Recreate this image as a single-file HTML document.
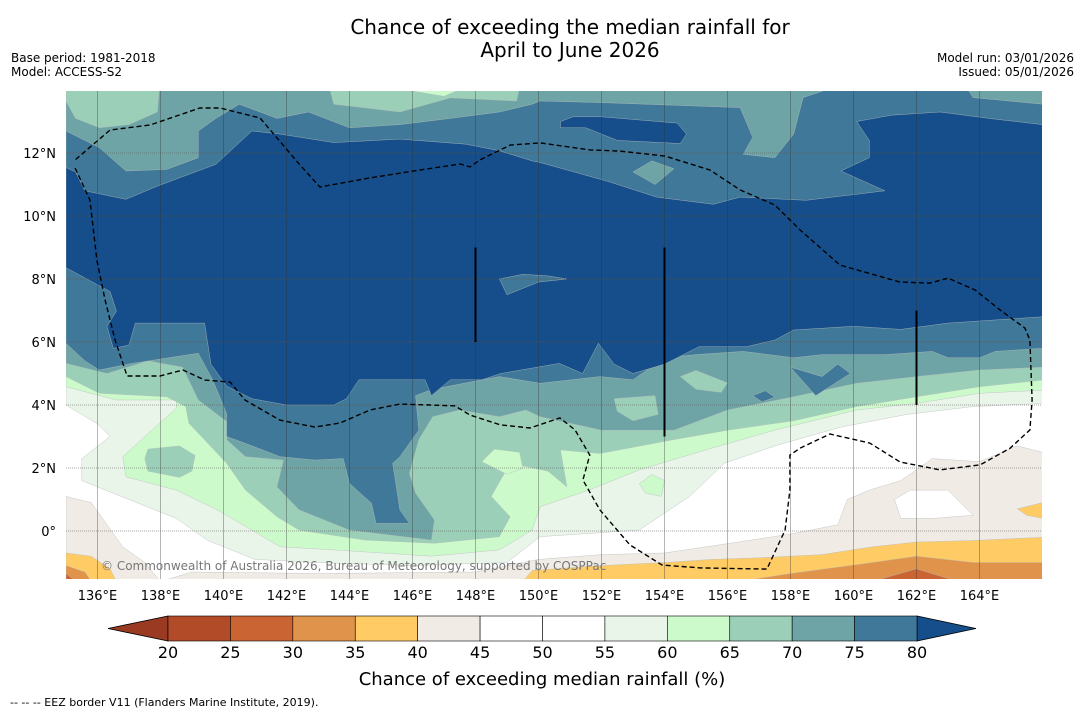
<!DOCTYPE html>
<html><head><meta charset="utf-8"><style>
body{margin:0;background:#fff;width:1085px;height:713px;overflow:hidden;font-family:"DejaVu Sans","Liberation Sans",sans-serif}
svg text{font-family:"DejaVu Sans","Liberation Sans",sans-serif}
</style></head><body>
<svg id="chart" width="1085" height="713" xmlns="http://www.w3.org/2000/svg">
<text x="570" y="34" text-anchor="middle" font-size="20">Chance of exceeding the median rainfall for</text>
<text x="570" y="57" text-anchor="middle" font-size="20">April to June 2026</text>
<text x="11" y="62" font-size="12">Base period: 1981-2018</text>
<text x="11" y="76" font-size="12">Model: ACCESS-S2</text>
<text x="1074" y="62" font-size="12" text-anchor="end">Model run: 03/01/2026</text>
<text x="1074" y="76" font-size="12" text-anchor="end">Issued: 05/01/2026</text>
<defs><clipPath id="mapclip"><rect x="66" y="91" width="976" height="488"/></clipPath></defs>
<g id="map" clip-path="url(#mapclip)"></g>
<g id="axes"></g>
<g id="cbar"></g>
<text x="542" y="685" text-anchor="middle" font-size="18">Chance of exceeding median rainfall (%)</text>
<text x="10" y="706" font-size="11">--  --  -- EEZ border V11 (Flanders Marine Institute, 2019).</text>
</svg>
<script>
const levels=[20,25,30,35,40,45,50,55,60,65,70,75,80];
const levelColors=["#9b3a22","#b14b28","#cb6433","#e0934a","#fecb65","#f0ebe5","#ffffff","#ffffff","#eaf5ea","#ccfacb","#9bcfb8","#6ea4a5","#3f7898","#154e8a"];
const lonTicks=[136,138,140,142,144,146,148,150,152,154,156,158,160,162,164];
const latTicks=[0,2,4,6,8,10,12];
// contour regions [colorIndex, polygon of [lon,lat]]
const regions=[
 [5,[[135,-1.6],[135,1.1],[135.8,0.9],[136.3,0.2],[136.8,-0.5],[137.5,-1.0],[138,-1.6]]],
 [5,[[138,-1.6],[139,-1.3],[143,-1.35],[148,-1.3],[150,-0.9],[152,-0.75],[154,-0.7],[156,-0.4],[158,-0.1],[159.5,0.2],[159.8,1.0],[160.5,1.3],[161.5,1.6],[162.5,2.3],[164,2.2],[165.2,2.7],[166,2.5],[166,-1.6]]],
 [6,[[161.3,1.0],[161.8,1.3],[163,1.3],[163.8,0.5],[162.5,0.4],[161.5,0.4]]],
 [4,[[149.5,-1.6],[149.8,-1.25],[152,-1.1],[154,-1.0],[155.5,-0.9],[157,-0.85],[159,-0.75],[160.6,-0.5],[162,-0.35],[163.8,-0.3],[166,-0.2],[166,-1.6]]],
 [4,[[165.2,0.7],[166,0.9],[166,0.4],[165.5,0.5]]],
 [3,[[156.4,-1.6],[158,-1.35],[160.6,-1.0],[162,-0.8],[163.8,-1.0],[166,-1.0],[166,-1.6]]],
 [2,[[160.6,-1.6],[162,-1.2],[163.3,-1.6]]],
 [4,[[135,-1.6],[135,-0.7],[135.8,-0.8],[136.4,-1.2],[136.6,-1.6]]],
 [3,[[135,-1.6],[135,-1.1],[135.6,-1.3],[135.8,-1.6]]],
 [2,[[135,-1.6],[135,-1.35],[135.3,-1.6]]],
 [8,[[135,14.5],[135,4.0],[136,3.4],[136.4,3.0],[135.5,2.3],[135.5,1.6],[137,1.0],[138.5,0.4],[139.5,-0.3],[141,-0.9],[143,-1.0],[146,-1.1],[149,-1.0],[150.05,-0.18],[153.2,0.03],[154.8,1.1],[155.9,2.15],[157.5,2.7],[159.6,3.3],[161.7,3.7],[163.8,3.95],[166,4.05],[166,14.5]]],
 [9,[[135,14.5],[135,4.58],[136.6,4.16],[138.5,4.16],[138.5,3.9],[136.8,2.36],[136.9,1.72],[138.5,1.3],[139.8,0.67],[140.9,0.03],[141.8,-0.5],[143.5,-0.6],[146.6,-0.8],[148.76,-0.6],[149.8,0.03],[150.05,0.77],[151.6,1.3],[153.2,1.94],[155.3,2.57],[157.5,3.2],[160.1,3.84],[162,4.05],[164,4.37],[166,4.47],[166,14.5]]],
 [9,[[153.2,1.5],[153.6,1.8],[154,1.6],[153.9,1.1],[153.4,1.2]]],
 [10,[[135,14.5],[135,4.9],[136.06,4.37],[138.2,4.26],[138.8,3.95],[138.9,3.42],[140.1,2.15],[140.7,1.3],[141.7,0.45],[142.4,0.03],[144.5,-0.29],[146.7,-0.39],[147.7,-0.29],[148.76,-0.18],[149.1,0.45],[148.5,1.1],[149.1,2.15],[150.3,1.9],[150.9,1.4],[150.7,2.57],[151.95,2.46],[154.3,2.9],[156,3.2],[158.1,3.5],[160.1,3.95],[162,4.26],[164,4.58],[166,4.79],[166,14.5]]],
 [10,[[137.5,2.3],[137.6,2.6],[138.6,2.7],[139.1,2.4],[139,1.9],[138.6,1.7],[137.6,1.9]]],
 [9,[[148.2,2.2],[148.6,2.6],[149.4,2.5],[149.5,2.0],[149,1.8]]],
 [11,[[135,5.32],[136.3,5.0],[137.6,5.4],[138.7,5.2],[139.2,4.16],[140.2,3.4],[140.1,2.9],[140.7,2.36],[141.9,2.25],[141.7,1.4],[142.4,0.67],[144,0.03],[146.6,-0.29],[146.7,0.35],[146.1,1.2],[145.9,1.83],[146.2,2.9],[146.64,3.63],[147.5,3.84],[148.76,3.63],[149.6,3.84],[150.05,3.63],[152,3.2],[154.3,3.2],[156,3.84],[158.1,4.26],[160.1,4.69],[162,4.9],[164,5.11],[166,5.2],[166,14.5],[149.5,14.5],[149.3,13.65],[147.2,13.75],[145.6,13.3],[143.5,13.55],[143.25,14.5],[138,14.5],[137.9,13.3],[137,12.9],[136.06,12.8],[135.3,13.1],[135,13.65]]],
 [10,[[154.5,4.9],[155,5.1],[156,4.7],[155.8,4.4],[155,4.5]]],
 [10,[[152.4,4.2],[153.7,4.3],[153.8,3.7],[153,3.5],[152.5,3.8]]],
 [9,[[145.6,14.5],[145.8,14.0],[147,13.8],[147.7,14.1],[147.9,14.5]]],
 [12,[[135,5.96],[135.6,5.4],[136.06,5.11],[137.1,5.32],[139.2,5.64],[139.66,4.79],[140.1,3.73],[140.1,3.0],[140.7,2.78],[141.8,2.36],[142.9,2.25],[143.8,2.3],[144,1.51],[144.7,0.88],[144.84,0.24],[145.9,0.24],[145.6,0.67],[145.37,2.15],[145.6,2.36],[146.2,3.2],[146.1,4.3],[146.64,4.5],[147.7,4.7],[148.76,4.9],[150.05,4.69],[151.95,4.9],[153,4.8],[154,5.5],[155,5.6],[156.5,5.7],[158.1,5.5],[159,5.6],[161,5.6],[162.5,5.7],[163,5.5],[164,5.5],[164.5,5.7],[166,5.8],[166,13.55],[163.8,13.76],[163.3,14.5],[160.6,14.5],[158.4,13.76],[158.1,12.6],[157.5,11.85],[156.5,11.96],[156.8,12.5],[156.4,13.44],[152,13.6],[150.05,13.65],[149.8,13.55],[148.76,13.3],[147.2,13.1],[145.6,12.9],[144,12.8],[142.7,13.3],[141.7,13.1],[140.5,13.55],[139.76,13.1],[139.2,12.7],[139.2,11.85],[138.2,11.48],[136.9,11.43],[136.06,12.17],[135,12.7]]],
 [12,[[158,5.2],[159,4.9],[159.5,5.3],[159.9,5.0],[158.8,4.3]]],
 [12,[[156.8,4.3],[157.2,4.45],[157.5,4.25],[157.1,4.1]]],
 [13,[[135,8.36],[136.4,7.6],[136.6,6.98],[136.3,6.5],[136.5,5.8],[137,5.9],[137.2,6.6],[139.4,6.6],[139.6,5.3],[140.1,4.6],[140.9,4.2],[142,4.0],[143.5,4.0],[143.9,4.2],[144.3,4.8],[146.4,4.8],[146.6,4.3],[147.2,4.8],[148.2,4.8],[148.8,5.0],[150.66,5.32],[151.4,5.0],[151.9,5.96],[152.4,5.3],[153,5.0],[154,5.3],[155.1,5.85],[156.6,5.85],[157.5,6.06],[158.1,6.38],[160,6.5],[161.5,6.4],[163,6.6],[166,6.8],[166,12.9],[164.3,13.1],[162.75,13.3],[161.2,13.2],[160.1,13.0],[160.5,12.4],[160.5,11.85],[159.6,11.43],[161,10.8],[158.5,10.5],[156.4,10.6],[155.55,10.37],[153.75,10.6],[152.2,11.1],[150.05,11.7],[149.8,11.75],[148.76,12.07],[147.7,12.28],[145.6,12.44],[143.5,12.33],[141.8,12.6],[140.9,12.7],[139.76,11.64],[137.9,10.95],[136.9,10.53],[135.6,10.8],[135.3,11.4],[135,11.54]]],
 [13,[[150.7,13.0],[151.1,13.15],[152,13.15],[154.4,12.95],[154.7,12.6],[154.5,12.3],[152.5,12.4],[151.5,12.8],[150.7,12.8]]],
 [12,[[148.76,8.0],[149.5,8.15],[150.3,8.1],[150.9,8.0],[150,7.9],[149,7.5]]],
 [11,[[153,11.4],[153.6,11.75],[154.3,11.5],[153.7,11.0]]]
];
const eezLon=[135.29,135.76,135.98,136.24,136.56,136.94,137.98,138.71,139.41,140.21,140.68,141.79,142.9,143.7,144.65,145.6,146.56,147.35,147.83,148.78,149.73,150.68,151.16,151.63,151.41,151.95,152.9,153.92,155.13,157.25,157.83,157.98,157.98,158.3,159.25,160.52,161.48,162.75,164.02,164.97,165.6,165.67,165.6,165.44,164.65,163.86,163.0,162.43,161.48,159.57,158.3,157.5,156.4,155.44,154.02,152.59,151.63,150.05,149.1,148.14,147.83,147.51,146.24,144.65,143.06,142.43,141.16,139.89,139.25,137.67,136.4,135.29];
const eezLat=[11.52,10.51,8.6,7.33,6.06,4.92,4.92,5.11,4.79,4.73,4.16,3.52,3.3,3.43,3.84,4.03,4.0,3.97,3.68,3.37,3.27,3.59,3.21,2.41,1.62,0.67,-0.44,-1.08,-1.17,-1.21,0.03,1.3,2.41,2.63,3.08,2.79,2.19,1.94,2.1,2.63,3.21,4.16,6.06,6.44,7.02,7.65,8.03,7.87,7.9,8.44,9.56,10.35,10.83,11.46,11.9,12.06,12.1,12.32,12.25,11.78,11.56,11.65,11.46,11.21,10.92,11.62,13.11,13.43,13.43,12.89,12.73,11.78];
const segLon=[148,154,162], segLat0=[6,3,4], segLat1=[9,9,7];
const NS="http://www.w3.org/2000/svg";
const X=lon=>66+(lon-135)*31.5, Y=lat=>531-lat*31.5;
function mk(t,a,p){const e=document.createElementNS(NS,t);for(const k in a)e.setAttribute(k,a[k]);p.appendChild(e);return e;}
const map=document.getElementById('map'), axes=document.getElementById('axes'), cb=document.getElementById('cbar');
const bg=mk('rect',{x:66,y:91,width:976,height:488,fill:'#fff'},map);


regions.forEach((r,i)=>{
 const p=mk('polygon',{points:r[1].map(q=>X(q[0]).toFixed(1)+','+Y(q[1]).toFixed(1)).join(' '),fill:levelColors[r[0]],stroke:'#b8bcbc','stroke-width':0.4,'stroke-linejoin':'round'},map);
 
 
});
lonTicks.forEach(l=>{
 const g=mk('line',{x1:X(l),x2:X(l),y1:91,y2:579,stroke:'#333','stroke-width':0.6,'stroke-opacity':0.6},map);
 
 
 const t=mk('text',{x:X(l),y:600,'text-anchor':'middle','font-size':13},axes);t.textContent=l+'°E';
 
 
});
latTicks.forEach(l=>{
 const g=mk('line',{x1:66,x2:1042,y1:Y(l),y2:Y(l),stroke:'#555','stroke-width':0.7,'stroke-dasharray':'1,1','stroke-opacity':0.7},map);
 
 
 const t=mk('text',{x:56,y:Y(l)+5,'text-anchor':'end','font-size':13},axes);t.textContent=l===0?'0°':l+'°N';
 
 
});
segLon.forEach((l,i)=>{
 const s=mk('line',{x1:X(l),x2:X(l),y1:Y(segLat0[i]),y2:Y(segLat1[i]),stroke:'#000','stroke-width':2},map);
 
 
});
const eez=mk('polyline',{points:eezLon.map((l,i)=>X(l).toFixed(1)+','+Y(eezLat[i]).toFixed(1)).join(' '),fill:'none',stroke:'#000','stroke-width':1.4,'stroke-dasharray':'5,3'},map);


const wm=mk('text',{x:101,y:570,'font-size':12,fill:'#777'},map);wm.textContent='© Commonwealth of Australia 2026, Bureau of Meteorology, supported by COSPPac';


// colorbar
const c0=168,c1=917,cy=616,ch=25,bw=(c1-c0)/(levels.length-1);
const lt=mk('polygon',{points:`108,${cy+ch/2} ${c0},${cy} ${c0},${cy+ch}`,fill:levelColors[0],stroke:'#000','stroke-width':0.8},cb);


const rt=mk('polygon',{points:`976,${cy+ch/2} ${c1},${cy} ${c1},${cy+ch}`,fill:levelColors[13],stroke:'#000','stroke-width':0.8},cb);


for(let i=0;i<levels.length-1;i++){
 const r=mk('rect',{x:c0+i*bw,y:cy,width:bw,height:ch,fill:levelColors[i+1],stroke:'#000','stroke-width':0.6},cb);
 
 
}
levels.forEach((v,i)=>{
 const t=mk('text',{x:c0+i*bw,y:658,'text-anchor':'middle','font-size':16},cb);t.textContent=v;
 
 
});
</script>
</body></html>
